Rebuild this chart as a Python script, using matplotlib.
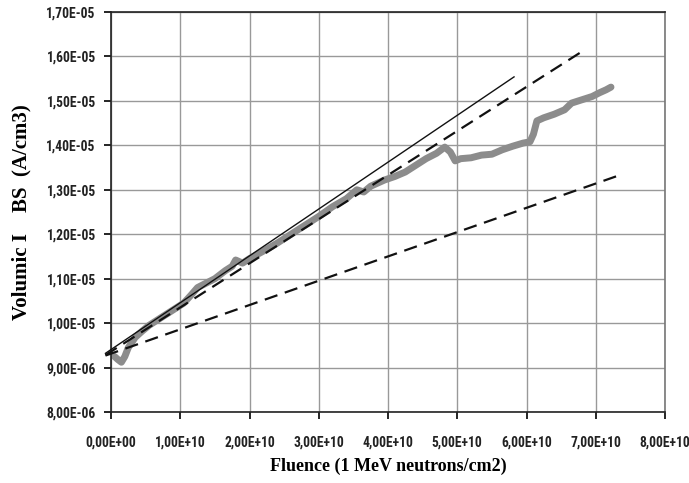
import numpy as np
import matplotlib.pyplot as plt
from matplotlib import font_manager
from matplotlib.ticker import FuncFormatter

# measured current (gray curve), x in 1e10 n/cm2, y in 1e-5 A/cm3
FLUENCE = [0.05, 0.1, 0.15, 0.2, 0.25, 0.35, 0.45, 0.55, 0.65, 0.8, 0.95, 1.05, 1.15,
           1.25, 1.35, 1.5, 1.65, 1.75, 1.8, 1.9, 2.0, 2.2, 2.4, 2.6, 2.8, 3.0,
           3.2, 3.4, 3.55, 3.65, 3.75, 3.85, 3.95, 4.1, 4.25, 4.4, 4.55, 4.7,
           4.82, 4.9, 4.97, 5.05, 5.2, 5.35, 5.5, 5.65, 5.8, 5.95, 6.05, 6.1,
           6.15, 6.25, 6.4, 6.55, 6.65, 6.75, 6.85, 6.95, 7.05, 7.15, 7.22]
IBS = [0.925, 0.918, 0.912, 0.925, 0.945, 0.968, 0.982, 0.995, 1.005, 1.02, 1.035, 1.045, 1.062,
       1.08, 1.088, 1.1, 1.118, 1.128, 1.142, 1.135, 1.145, 1.162, 1.18, 1.2, 1.22, 1.24,
       1.262, 1.28, 1.3, 1.295, 1.308, 1.315, 1.322, 1.33, 1.34, 1.355, 1.37, 1.382,
       1.396, 1.385, 1.365, 1.37, 1.372, 1.378, 1.38, 1.39, 1.398, 1.405, 1.408, 1.425,
       1.455, 1.462, 1.47, 1.48, 1.495, 1.5, 1.505, 1.51, 1.518, 1.525, 1.531]

# straight fits: (x0, y0, x1, y1)
FIT_SOLID = (-0.08, 0.932, 5.82, 1.554)
FIT_DASH_HI = (-0.08, 0.928, 6.79, 1.610)
FIT_DASH_LO = (-0.08, 0.927, 7.31, 1.331)

XTICKS = np.arange(0, 8.01, 1.0)
YTICKS = np.arange(0.8, 1.701, 0.1)


def sci_comma(v, exp):
    txt = "{:.2E}".format(v * 10.0 ** exp)
    return txt.replace(".", ",")


def pick_font():
    names = set(f.name for f in font_manager.fontManager.ttflist)
    for n in ['Liberation Sans Narrow', 'DejaVu Sans Condensed', 'Roboto Condensed']:
        if n in names:
            return n, 9.8
    return 'Liberation Sans', 9.0


def main():
    tick_font, tick_size = pick_font()
    plt.rcParams['font.family'] = [tick_font, 'DejaVu Sans']
    fig = plt.figure(figsize=(6.89, 4.83), dpi=100)
    ax = fig.add_axes([111 / 689, 1 - 412 / 483, 554 / 689, 400 / 483])

    ax.plot(FLUENCE, IBS, color='#8c8c8c', lw=5, solid_capstyle='round', zorder=2)
    for (x0, y0, x1, y1), ls, lw in [(FIT_SOLID, '-', 1.0),
                                     (FIT_DASH_HI, (0, (6, 3.5)), 1.6),
                                     (FIT_DASH_LO, (0, (6, 3.5)), 1.6)]:
        ax.plot([x0, x1], [y0, y1], color='#111111', ls=ls, lw=lw, clip_on=False, zorder=3)

    ax.set_xlim(0, 8)
    ax.set_ylim(0.8, 1.7)
    ax.set_xticks(XTICKS)
    ax.set_yticks(YTICKS)
    ax.xaxis.set_major_formatter(FuncFormatter(lambda v, p: sci_comma(v, 10)))
    ax.yaxis.set_major_formatter(FuncFormatter(lambda v, p: sci_comma(v, -5)))
    for lab in ax.get_xticklabels() + ax.get_yticklabels():
        lab.set_fontweight('bold')
        lab.set_fontsize(tick_size)
        lab.set_color('#222222')
    ax.tick_params(direction='out', length=5, width=1.2)
    ax.tick_params(axis='x', pad=12)
    ax.tick_params(axis='y', pad=6)

    ax.grid(True, color='#999999', lw=1.0)
    ax.set_axisbelow(True)
    for s in ax.spines.values():
        s.set_color('#222222')
        s.set_linewidth(1.2)
    ax.spines['right'].set_color('#777777')

    serif = ['Liberation Serif', 'DejaVu Serif']
    ax.set_xlabel("Fluence (1 MeV neutrons/cm2)", family=serif,
                  fontweight='bold', fontsize=13, labelpad=6)
    ax.set_ylabel("Volumic I    BS  (A/cm3)", family=serif,
                  fontweight='bold', fontsize=15, labelpad=11)

    fig.savefig("out.png", dpi=100)


if __name__ == "__main__":
    main()
